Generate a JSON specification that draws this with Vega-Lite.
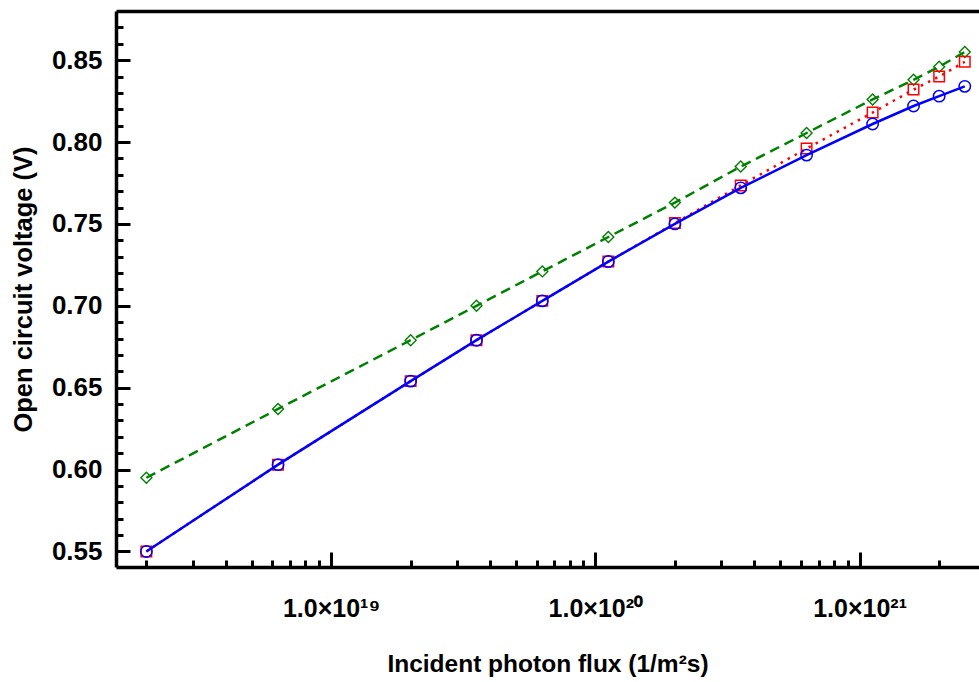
{
  "$schema": "https://vega.github.io/schema/vega-lite/v6.json",
  "width": 863,
  "height": 556,
  "autosize": {"type": "none"},
  "padding": {"left": 116, "top": 11, "right": 0, "bottom": 115},
  "background": "white",
  "config": {
    "view": {"stroke": null},
    "axis": {
      "grid": false,
      "labelFont": "Liberation Sans",
      "titleFont": "Liberation Sans",
      "labelFontWeight": "bold",
      "titleFontWeight": "bold",
      "labelColor": "black",
      "titleColor": "black",
      "domainColor": "black",
      "tickColor": "black",
      "domainWidth": 3.5,
      "tickWidth": 3
    }
  },
  "data": {
    "values": [
      {"flux": 2e18, "voc": 0.595, "series": "C"},
      {"flux": 6.3e18, "voc": 0.637, "series": "C"},
      {"flux": 2e19, "voc": 0.679, "series": "C"},
      {"flux": 3.55e19, "voc": 0.700, "series": "C"},
      {"flux": 6.3e19, "voc": 0.721, "series": "C"},
      {"flux": 1.12e20, "voc": 0.742, "series": "C"},
      {"flux": 2e20, "voc": 0.763, "series": "C"},
      {"flux": 3.55e20, "voc": 0.785, "series": "C"},
      {"flux": 6.3e20, "voc": 0.8055, "series": "C"},
      {"flux": 1.12e21, "voc": 0.826, "series": "C"},
      {"flux": 1.6e21, "voc": 0.838, "series": "C"},
      {"flux": 2e21, "voc": 0.846, "series": "C"},
      {"flux": 2.5e21, "voc": 0.855, "series": "C"},
      {"flux": 2e18, "voc": 0.550, "series": "B"},
      {"flux": 6.3e18, "voc": 0.603, "series": "B"},
      {"flux": 2e19, "voc": 0.654, "series": "B"},
      {"flux": 3.55e19, "voc": 0.679, "series": "B"},
      {"flux": 6.3e19, "voc": 0.703, "series": "B"},
      {"flux": 1.12e20, "voc": 0.727, "series": "B"},
      {"flux": 2e20, "voc": 0.7505, "series": "B"},
      {"flux": 3.55e20, "voc": 0.7735, "series": "B"},
      {"flux": 6.3e20, "voc": 0.796, "series": "B"},
      {"flux": 1.12e21, "voc": 0.818, "series": "B"},
      {"flux": 1.6e21, "voc": 0.832, "series": "B"},
      {"flux": 2e21, "voc": 0.840, "series": "B"},
      {"flux": 2.5e21, "voc": 0.849, "series": "B"},
      {"flux": 2e18, "voc": 0.550, "series": "A"},
      {"flux": 6.3e18, "voc": 0.603, "series": "A"},
      {"flux": 2e19, "voc": 0.654, "series": "A"},
      {"flux": 3.55e19, "voc": 0.679, "series": "A"},
      {"flux": 6.3e19, "voc": 0.703, "series": "A"},
      {"flux": 1.12e20, "voc": 0.727, "series": "A"},
      {"flux": 2e20, "voc": 0.750, "series": "A"},
      {"flux": 3.55e20, "voc": 0.772, "series": "A"},
      {"flux": 6.3e20, "voc": 0.792, "series": "A"},
      {"flux": 1.12e21, "voc": 0.811, "series": "A"},
      {"flux": 1.6e21, "voc": 0.822, "series": "A"},
      {"flux": 2e21, "voc": 0.828, "series": "A"},
      {"flux": 2.5e21, "voc": 0.834, "series": "A"}
    ]
  },
  "encoding": {
    "y": {
      "field": "voc",
      "type": "quantitative",
      "scale": {"domain": [0.5405, 0.88], "nice": false, "zero": false},
      "axis": {
        "title": "Open circuit voltage (V)",
        "titleFontSize": 25.5,
        "titlePadding": 15,
        "labelFontSize": 26,
        "labelPadding": 28,
        "values": [0.55, 0.56, 0.57, 0.58, 0.59, 0.6, 0.61, 0.62, 0.63, 0.64, 0.65, 0.66, 0.67, 0.68, 0.69, 0.7, 0.71, 0.72, 0.73, 0.74, 0.75, 0.76, 0.77, 0.78, 0.79, 0.8, 0.81, 0.82, 0.83, 0.84, 0.85, 0.86, 0.87],
        "labelExpr": "round(datum.value*100) % 5 == 0 ? format(datum.value, '.2f') : ''",
        "labelOverlap": false,
        "labelFlush": false,
        "tickSize": {"condition": {"test": "round(datum.value*100) % 5 == 0", "value": -14}, "value": -7}
      }
    }
  },
  "layer": [
    {
      "transform": [{"filter": "datum.series == 'C'"}],
      "mark": {"type": "line", "color": "#008000", "strokeWidth": 2.5, "strokeDash": [10, 6]},
      "encoding": {
        "x": {
          "field": "flux",
          "type": "quantitative",
          "scale": {"type": "log", "domain": [1.535e18, 2.83e21], "nice": false},
          "axis": {
            "orient": "bottom",
            "title": "Incident photon flux (1/m²s)",
            "titleFontSize": 24.5,
            "titlePadding": 23,
            "labelFontSize": 25,
            "labelPadding": 44,
            "values": [2e18, 3e18, 4e18, 5e18, 6e18, 7e18, 8e18, 9e18, 1e19, 2e19, 3e19, 4e19, 5e19, 6e19, 7e19, 8e19, 9e19, 1e20, 2e20, 3e20, 4e20, 5e20, 6e20, 7e20, 8e20, 9e20, 1e21, 2e21],
            "labelExpr": "datum.value == 1e19 ? '1.0×10¹⁹' : datum.value == 1e20 ? '1.0×10²⁰' : datum.value == 1e21 ? '1.0×10²¹' : ''",
            "labelOverlap": false,
            "labelFlush": false,
            "tickSize": {"condition": {"test": "datum.value == 1e19 || datum.value == 1e20 || datum.value == 1e21", "value": -15}, "value": -7}
          }
        }
      }
    },
    {
      "transform": [{"filter": "datum.series == 'C'"}],
      "mark": {"type": "point", "shape": "diamond", "filled": false, "color": "#008000", "size": 120, "strokeWidth": 1.4, "opacity": 1},
      "encoding": {
        "x": {"field": "flux", "type": "quantitative", "scale": {"type": "log", "domain": [1.535e18, 2.83e21], "nice": false}, "axis": null}
      }
    },
    {
      "transform": [{"filter": "datum.series == 'B'"}],
      "mark": {"type": "line", "color": "#ff0000", "strokeWidth": 2.5, "strokeDash": [2.5, 5.5]},
      "encoding": {
        "x": {"field": "flux", "type": "quantitative", "scale": {"type": "log", "domain": [1.535e18, 2.83e21], "nice": false}, "axis": null}
      }
    },
    {
      "transform": [{"filter": "datum.series == 'B'"}],
      "mark": {"type": "point", "shape": "square", "filled": false, "color": "#ff0000", "size": 110, "strokeWidth": 1.5, "opacity": 1},
      "encoding": {
        "x": {"field": "flux", "type": "quantitative", "scale": {"type": "log", "domain": [1.535e18, 2.83e21], "nice": false}, "axis": null}
      }
    },
    {
      "transform": [{"filter": "datum.series == 'A'"}],
      "mark": {"type": "line", "color": "#0000ff", "strokeWidth": 2.5},
      "encoding": {
        "x": {"field": "flux", "type": "quantitative", "scale": {"type": "log", "domain": [1.535e18, 2.83e21], "nice": false}, "axis": null}
      }
    },
    {
      "transform": [{"filter": "datum.series == 'A'"}],
      "mark": {"type": "point", "shape": "circle", "filled": false, "color": "#0000ff", "size": 130, "strokeWidth": 1.5, "opacity": 1},
      "encoding": {
        "x": {
          "field": "flux",
          "type": "quantitative",
          "scale": {"type": "log", "domain": [1.535e18, 2.83e21], "nice": false},
          "axis": {"orient": "top", "labels": false, "ticks": false, "title": null, "domain": true}
        }
      }
    }
  ],
  "resolve": {"axis": {"x": "independent"}}
}
